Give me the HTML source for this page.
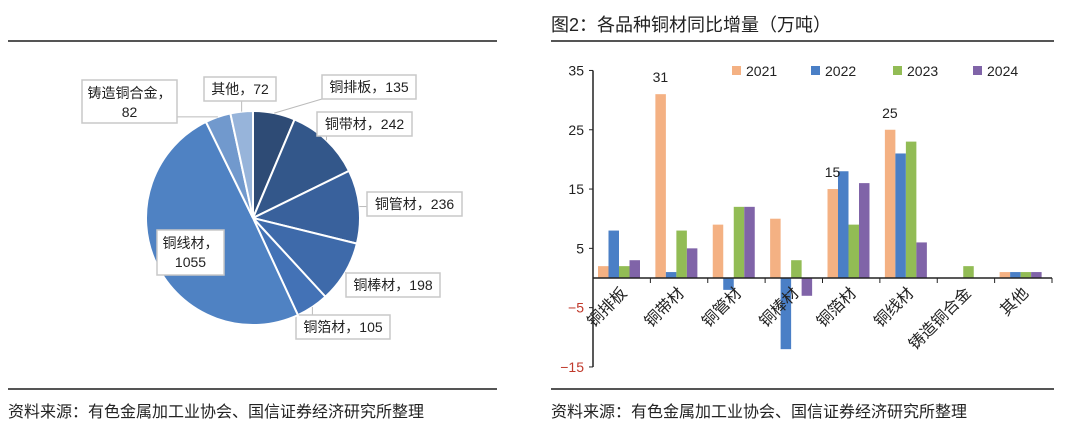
<!DOCTYPE html>
<html><head><meta charset="utf-8">
<style>
html,body{margin:0;padding:0;background:#fff;}
body{width:1080px;height:425px;position:relative;overflow:hidden;font-family:"Liberation Sans","Noto Sans CJK SC",sans-serif;}
.rule{position:absolute;height:2px;background:#555;}
.src{position:absolute;font-size:16px;color:#222;}
.title{position:absolute;font-size:18px;color:#222;}
</style></head>
<body>
<div class="rule" style="left:8px;top:40px;width:489px;"></div>
<div class="rule" style="left:551px;top:40px;width:503px;"></div>
<div class="rule" style="left:8px;top:388px;width:489px;"></div>
<div class="rule" style="left:551px;top:388px;width:503px;"></div>
<div class="title" style="left:551px;top:11px;">图2：各品种铜材同比增量（万吨）</div>
<div class="src" style="left:8px;top:398px;">资料来源：有色金属加工业协会、国信证券经济研究所整理</div>
<div class="src" style="left:551px;top:398px;">资料来源：有色金属加工业协会、国信证券经济研究所整理</div>

<svg id="pie" width="540" height="380" style="position:absolute;left:0;top:0" font-family="Liberation Sans, Noto Sans CJK SC, sans-serif"></svg>
<svg id="bar" width="1080" height="380" style="position:absolute;left:0;top:0" font-family="Liberation Sans, Noto Sans CJK SC, sans-serif"></svg>

<script>
// ---- Pie data ----
const pieLabels = ["铜排板","铜带材","铜管材","铜棒材","铜箔材","铜线材","铸造铜合金","其他"];
const pieValues = [135,242,236,198,105,1055,82,72];
const pieColors = ["#2E4B75","#33578A","#39619C","#3E6AAA","#4372B6","#4F82C3","#7199CD","#97B4DA"];
// ---- Bar data ----
const categories = ["铜排板","铜带材","铜管材","铜棒材","铜箔材","铜线材","铸造铜合金","其他"];
const years = ["2021","2022","2023","2024"];
const s2021 = [2,31,9,10,15,25,0,1];
const s2022 = [8,1,-2,-12,18,21,0,1];
const s2023 = [2,8,12,3,9,23,2,1];
const s2024 = [3,5,12,-3,16,6,0,1];
const yTicks = [35,25,15,5,-5,-15];
const annotated = [[1,0,"31"],[4,0,"15"],[5,0,"25"]];

const NS="http://www.w3.org/2000/svg";
function mk(p,t,a){const e=document.createElementNS(NS,t);for(const k in a)e.setAttribute(k,a[k]);p.appendChild(e);return e;}

// Pie
(function(){
 const svg=document.getElementById('pie');
 const cx=253,cy=218,r=107;
 const total=pieValues.reduce((a,b)=>a+b,0);
 let a0=-Math.PI/2;
 const boxes=[
  {x:322,y:75,w:94,h:24,t:["铜排板，135"]},
  {x:317,y:112,w:95,h:24,t:["铜带材，242"]},
  {x:367,y:192,w:95,h:24,t:["铜管材，236"]},
  {x:346,y:273,w:94,h:24,t:["铜棒材，198"]},
  {x:296,y:315,w:94,h:24,t:["铜箔材，105"]},
  {x:157,y:230,w:67,h:45,t:["铜线材，","1055"]},
  {x:82,y:80,w:95,h:43,t:["铸造铜合金，","82"]},
  {x:204,y:77,w:72,h:24,t:["其他，72"]}];
 pieValues.forEach((v,i)=>{
  const a1=a0+v/total*2*Math.PI;
  const large=(a1-a0)>Math.PI?1:0;
  const d=`M${cx},${cy} L${cx+r*Math.cos(a0)},${cy+r*Math.sin(a0)} A${r},${r} 0 ${large} 1 ${cx+r*Math.cos(a1)},${cy+r*Math.sin(a1)} Z`;
  const p=mk(svg,'path',{d:d,fill:pieColors[i],stroke:'#fff','stroke-width':2});
  
  
  const am=(a0+a1)/2;
  const b=boxes[i];
  const ex=cx+r*Math.cos(am), ey=cy+r*Math.sin(am);
  if(i!==5){
   const bx=Math.max(b.x,Math.min(b.x+b.w,ex)), by=Math.max(b.y,Math.min(b.y+b.h,ey));
   const ln=mk(svg,'line',{x1:ex,y1:ey,x2:bx,y2:by,stroke:'#bbb','stroke-width':1});
   
   
  }
  const g=mk(svg,'g',{});
  
  
  mk(g,'rect',{x:b.x,y:b.y,width:b.w,height:b.h,fill:'#fff',stroke:'#c8c8c8','stroke-width':1.5});
  b.t.forEach((s,k)=>{
   const tx=mk(g,'text',{x:b.x+b.w/2,y:b.y+(b.t.length===1?17:18+k*19),'text-anchor':'middle','font-size':14,fill:'#222'});
   tx.textContent=s;
  });
  a0=a1;
 });
})();

// Bar
(function(){
 const svg=document.getElementById('bar');
 const x0=593,x1=1052,y0=278,pxPer=5.93;
 const step=(x1-x0)/categories.length;
 const Y=v=>y0-v*pxPer;
 const colors=["#F4B183","#4A7FC6","#92BC55","#8064A8"];
 const series=[s2021,s2022,s2023,s2024];
 const ya=mk(svg,'line',{x1:x0,y1:Y(35),x2:x0,y2:Y(-15),stroke:'#222','stroke-width':1.5});
 
 
 yTicks.forEach(t=>{
  mk(svg,'line',{x1:x0-4,y1:Y(t),x2:x0,y2:Y(t),stroke:'#222'});
  const tx=mk(svg,'text',{x:x0-9,y:Y(t)+5,'text-anchor':'end','font-size':14,fill:t<0?'#C0392B':'#222'});
  
  
  tx.textContent=(t<0?'−':'')+Math.abs(t);
 });
 series.forEach((s,j)=>{
  s.forEach((v,i)=>{
   const bx=x0+i*step+5+j*10.5;
   const r=mk(svg,'rect',{x:bx,y:Math.min(Y(v),y0),width:10.5,height:Math.abs(Y(v)-y0),fill:colors[j]});
   
   
  });
 });
 const xa=mk(svg,'line',{x1:x0,y1:y0,x2:x1,y2:y0,stroke:'#222','stroke-width':1.5});
 
 
 categories.forEach((c,i)=>{
  const tx=x0+(i+1)*step;
  mk(svg,'line',{x1:tx,y1:y0,x2:tx,y2:y0+5,stroke:'#222'});
  const cxp=x0+(i+0.5)*step+6;
  const t=mk(svg,'text',{x:cxp,y:y0+16,'text-anchor':'end','font-size':16,fill:'#222',transform:`rotate(-45 ${cxp} ${y0+16})`});
  
  
  t.textContent=c;
 });
 annotated.forEach(([i,j,s])=>{
  const v=series[j][i];
  const t=mk(svg,'text',{x:x0+i*step+5+j*10.5+5,y:Y(v)-12,'text-anchor':'middle','font-size':14,fill:'#222'});
  
  
  t.textContent=s;
 });
 const lx=[732,811,893,973];
 years.forEach((yr,j)=>{
  const g=mk(svg,'g',{});
  
  
  mk(g,'rect',{x:lx[j],y:66,width:9,height:9,fill:colors[j]});
  const t=mk(g,'text',{x:lx[j]+14,y:76,'font-size':14,fill:'#222'});
  t.textContent=yr;
 });
})();
</script>
</body></html>
